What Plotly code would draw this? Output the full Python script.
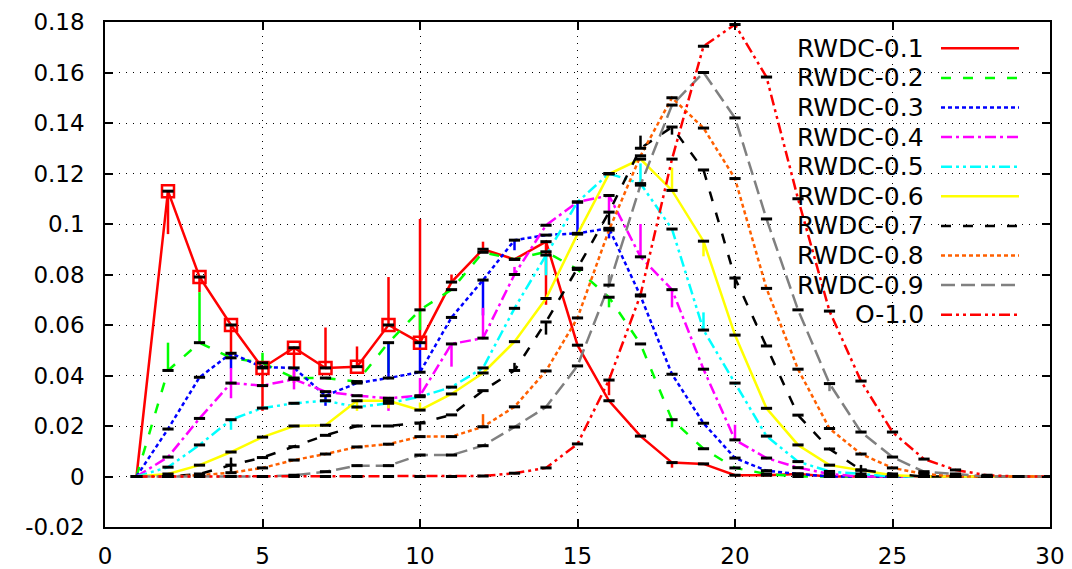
import plotly.graph_objects as go

# x positions shared by every series
x = list(range(1, 31))

rwdc_01 = [0, 0.113, 0.079, 0.060, 0.043, 0.051, 0.043, 0.0435, 0.060, 0.053,
           0.077, 0.090, 0.086, 0.093, 0.052, 0.030, 0.016, 0.0055, 0.005, 0.0005,
           0.0005, 0.001, 0, 0, 0, 0, 0, 0, 0, 0]
rwdc_02 = [0, 0.042, 0.053, 0.047, 0.045, 0.039, 0.039, 0.0376, 0.053, 0.066,
           0.074, 0.0888, 0.086, 0.089, 0.082, 0.071, 0.0525, 0.0225, 0.011, 0.0034,
           0.001, 0, 0, 0, 0, 0, 0, 0, 0, 0]
rwdc_03 = [0, 0.0188, 0.0393, 0.0488, 0.0433, 0.043, 0.032, 0.037, 0.039, 0.0413,
           0.063, 0.0778, 0.0936, 0.0956, 0.0963, 0.0983, 0.0715, 0.0405, 0.0211, 0.0073,
           0.0023, 0.001, 0, 0, 0, 0, 0, 0, 0, 0]
rwdc_04 = [0, 0.0077, 0.023, 0.037, 0.036, 0.0385, 0.0336, 0.032, 0.031, 0.032,
           0.0525, 0.0548, 0.080, 0.0995, 0.1087, 0.1113, 0.087, 0.074, 0.0425, 0.0145,
           0.0073, 0.0035, 0.001, 0, 0, 0, 0, 0, 0, 0]
rwdc_05 = [0, 0.0037, 0.0125, 0.0225, 0.0271, 0.029, 0.030, 0.0275, 0.029, 0.0316,
           0.0354, 0.043, 0.0666, 0.0877, 0.1087, 0.120, 0.116, 0.098, 0.058, 0.037,
           0.016, 0.0059, 0.002, 0.001, 0, 0, 0, 0, 0, 0]
rwdc_06 = [0, 0.001, 0.0045, 0.0097, 0.0156, 0.020, 0.0203, 0.030, 0.030, 0.0263,
           0.0327, 0.041, 0.0534, 0.0705, 0.096, 0.1198, 0.1257, 0.1133, 0.0932, 0.056,
           0.027, 0.0125, 0.0045, 0.0025, 0.0005, 0, 0, 0, 0, 0]
rwdc_07 = [0, 0, 0.001, 0.0045, 0.0075, 0.0118, 0.0163, 0.020, 0.020, 0.0212,
           0.0244, 0.034, 0.042, 0.0612, 0.0825, 0.1047, 0.130, 0.1384, 0.1214, 0.0786,
           0.0517, 0.0243, 0.0109, 0.0026, 0.001, 0, 0, 0, 0, 0]
rwdc_08 = [0, 0, 0.0005, 0.0015, 0.0034, 0.0065, 0.0089, 0.0117, 0.0128, 0.0158,
           0.0158, 0.0197, 0.0276, 0.0418, 0.0628, 0.0976, 0.127, 0.150, 0.138, 0.118,
           0.0745, 0.0425, 0.019, 0.0089, 0.0034, 0.001, 0, 0, 0, 0]
rwdc_09 = [0, 0, 0, 0, 0, 0.0005, 0.0019, 0.0043, 0.0043, 0.0085,
           0.0085, 0.0122, 0.0196, 0.0275, 0.0438, 0.0758, 0.1154, 0.1471, 0.160, 0.142,
           0.102, 0.066, 0.0368, 0.0176, 0.0077, 0.0019, 0.001, 0, 0, 0]
o_10 = [0, 0, 0, 0, 0, 0, 0, 0, 0, 0,
        0, 0.0002, 0.0013, 0.0034, 0.0129, 0.0382, 0.0719, 0.1257, 0.1704, 0.179,
        0.1582, 0.110, 0.0655, 0.0378, 0.0176, 0.0069, 0.0026, 0.0005, 0, 0]

# error bars: {x: (plus, minus)}
err_01 = {2: (0, 0.017), 3: (0, 0.006), 4: (0, 0.013), 5: (0, 0.017), 6: (0, 0.014),
          7: (0.016, 0), 8: (0.008, 0), 9: (0.019, 0), 10: (0.049, 0),
          11: (0.003, 0), 12: (0.003, 0), 14: (0, 0.025), 18: (0, 0.002)}
err_02 = {2: (0.011, 0), 3: (0.02, 0), 5: (0.004, 0), 9: (0, 0.012), 10: (0, 0.008),
          16: (0, 0.004), 18: (0, 0.003)}
err_03 = {4: (0, 0.006), 7: (0, 0.004), 9: (0.014, 0), 10: (0.012, 0), 12: (0, 0.014),
          13: (0, 0.004), 15: (0.012, 0), 16: (0, 0.004)}
err_04 = {4: (0.006, 0.006), 6: (0.004, 0.004), 9: (0, 0.005), 10: (0.007, 0),
          11: (0, 0.009), 12: (0.012, 0), 13: (0.003, 0), 16: (0, 0.007),
          17: (0.013, 0), 18: (0, 0.007), 20: (0.006, 0)}
err_05 = {4: (0, 0.004), 14: (0, 0.008), 17: (0.008, 0), 19: (0.007, 0)}
err_06 = {8: (0, 0.004), 9: (0, 0.003), 10: (0.003, 0), 18: (0.009, 0), 19: (0, 0.006)}
err_07 = {4: (0.003, 0.003), 10: (0, 0.003), 13: (0.003, 0), 14: (0, 0.005),
          16: (0, 0.005), 17: (0.005, 0), 18: (0, 0.003), 20: (0, 0.004), 24: (0.002, 0.002)}
err_08 = {12: (0.005, 0)}
err_09 = {16: (0.004, 0), 23: (0, 0.003)}
err_10 = {16: (0, 0.006)}

names = ["RWDC-0.1", "RWDC-0.2", "RWDC-0.3", "RWDC-0.4", "RWDC-0.5",
         "RWDC-0.6", "RWDC-0.7", "RWDC-0.8", "RWDC-0.9", "O-1.0"]
series = [rwdc_01, rwdc_02, rwdc_03, rwdc_04, rwdc_05,
          rwdc_06, rwdc_07, rwdc_08, rwdc_09, o_10]
errors = [err_01, err_02, err_03, err_04, err_05,
          err_06, err_07, err_08, err_09, err_10]

colors = ["#ff0000", "#00ff00", "#0000ff", "#ff00ff", "#00ffff",
          "#ffff00", "#000000", "#ff6000", "#808080", "#ff0000"]
dashes = ["solid", "10px,12px", "4px,3px", "11px,4px,3px,4px",
          "11px,4px,3px,4px,3px,4px", "solid", "10px,12px", "4px,3px",
          "14px,6px", "11px,4px,3px,4px,3px,4px"]

fig = go.Figure()

for name, ys, err, col, dash in zip(names, series, errors, colors, dashes):
    plus = [err.get(v, (0, 0))[0] for v in x]
    minus = [err.get(v, (0, 0))[1] for v in x]
    fig.add_trace(go.Scatter(
        x=x, y=ys, name=name, mode="lines",
        line=dict(color=col, width=2.5, dash=dash),
        error_y=dict(type="data", symmetric=False, array=plus, arrayminus=minus,
                     color=col, thickness=2.5, width=0),
        showlegend=False,
    ))

# open squares on the first series
sq_x = x[1:10]
sq_y = rwdc_01[1:10]
fig.add_trace(go.Scatter(
    x=sq_x, y=sq_y, mode="markers", showlegend=False,
    marker=dict(symbol="square-open", size=12, color="#ff0000",
                line=dict(width=2.5, color="#ff0000")),
))

# small black dashes at every data point
for ys in series:
    fig.add_trace(go.Scatter(
        x=x, y=ys, mode="markers", showlegend=False,
        marker=dict(symbol="line-ew", size=8, color="#000000",
                    line=dict(width=3, color="#000000")),
    ))

# key drawn in the upper right: text on the left, line sample on the right
L, R, T, B = 105, 1050, 22, 527
W, H = R - L, B - T


def px(v):
    return (v - L) / W


def py(v):
    return (B - v) / H


shapes = [dict(type="rect", xref="paper", yref="paper",
               x0=px(790), x1=px(1049), y0=py(330), y1=py(31),
               fillcolor="white", line=dict(width=0), layer="between")]
annotations = []
for i, (name, col, dash) in enumerate(zip(names, colors, dashes)):
    yc = 48.3 + 29.6 * i
    annotations.append(dict(
        xref="paper", yref="paper", x=px(926), y=py(yc),
        xanchor="right", yanchor="middle", text=name, showarrow=False,
        font=dict(family="DejaVu Sans", size=25, color="#000000"),
    ))
    shapes.append(dict(
        type="line", xref="paper", yref="paper",
        x0=px(941), x1=px(1019), y0=py(yc), y1=py(yc),
        line=dict(color=col, width=2.5, dash=dash), layer="above",
    ))

ytick_vals = [-0.02, 0, 0.02, 0.04, 0.06, 0.08, 0.1, 0.12, 0.14, 0.16, 0.18]
ytick_text = ["-0.02", "0", "0.02", "0.04", "0.06", "0.08", "0.1",
              "0.12", "0.14", "0.16", "0.18"]
xtick_vals = [0, 5, 10, 15, 20, 25, 30]
xtick_text = ["0", "5", "10", "15", "20", "25", "30"]

axis_common = dict(
    showline=True, linecolor="#000000", linewidth=1.5, mirror="allticks",
    ticks="inside", ticklen=8, tickwidth=1.5, tickcolor="#000000",
    showgrid=True, gridcolor="#000000", gridwidth=1, griddash="1px,6px",
    zeroline=False, automargin=False,
    tickfont=dict(family="DejaVu Sans", size=23, color="#000000"),
)

fig.update_layout(
    width=1072, height=569,
    margin=dict(l=L, r=1072 - R, t=T, b=569 - B, autoexpand=False),
    paper_bgcolor="white", plot_bgcolor="white",
    shapes=shapes, annotations=annotations,
    xaxis=dict(range=[0, 30], tickvals=xtick_vals, ticktext=xtick_text,
               ticklabelstandoff=8, **axis_common),
    yaxis=dict(range=[-0.02, 0.18], tickvals=ytick_vals, ticktext=ytick_text,
               ticklabelstandoff=14, **axis_common),
)

fig.write_html("out.html")
